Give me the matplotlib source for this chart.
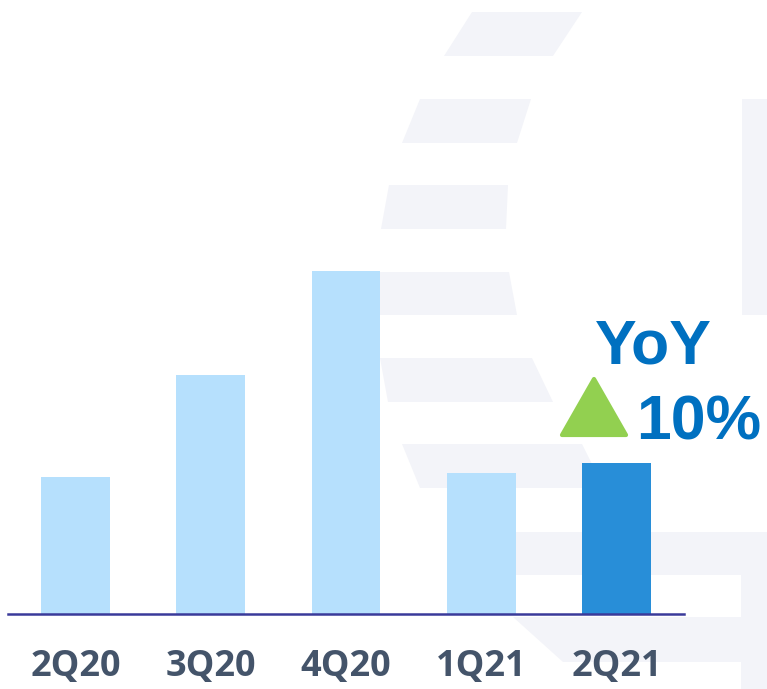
import matplotlib
matplotlib.use("Agg")
import matplotlib.pyplot as plt
from matplotlib.patches import Polygon

# ---- data ----
quarters = ["2Q20", "3Q20", "4Q20", "1Q21", "2Q21"]
values = [13.7, 23.9, 34.3, 14.1, 15.1]
highlight = "2Q21"
yoy_label = "YoY"
yoy_value = "10%"

LIGHT = "#B6E0FD"
DARK = "#288ED8"
BAND = "#F3F4F9"
LABEL = "#44546A"
BLUE_TXT = "#0070C0"
GREEN = "#92D050"

W, H = 767, 689
fig = plt.figure(figsize=(W / 100, H / 100), dpi=100)
fig.patch.set_facecolor("white")

# background decoration axes in pixel coordinates
bg = fig.add_axes([0, 0, 1, 1], zorder=0)
bg.set_xlim(0, W)
bg.set_ylim(H, 0)
bg.axis("off")
bands = [
    [(472, 12), (582, 12), (553, 56), (444, 56)],
    [(420, 99), (531, 99), (517, 143), (402, 143)],
    [(389, 185), (508, 185), (506, 229), (381, 229)],
    [(376, 272), (509, 272), (517, 315), (376, 315)],
    [(380, 358), (532, 358), (553, 402), (388, 402)],
    [(402, 444), (582, 444), (604, 488), (420, 488)],
    [(742, 99), (767, 99), (767, 315), (742, 315)],
    [(460, 532), (767, 532), (767, 689), (741, 689), (741, 662), (563, 662),
     (513, 617), (741, 617), (741, 575), (475, 575)],
]
for b in bands:
    bg.add_patch(Polygon(b, closed=True, facecolor=BAND, edgecolor="none"))

# main axes
left = 8 / W
bottom = (H - 614) / H
ax = fig.add_axes([left, bottom, 676 / W, 614 / H], zorder=1)
ax.patch.set_alpha(0)
x = list(range(len(quarters)))
colors = [DARK if q == highlight else LIGHT for q in quarters]
ax.bar(x, values, width=0.51, color=colors, zorder=2)
ax.set_xlim(-0.5, 4.5)
ax.set_ylim(0, 61.4)
for s in ["top", "right", "left"]:
    ax.spines[s].set_visible(False)
ax.spines["bottom"].set_color("#3A3A9A")
ax.spines["bottom"].set_linewidth(1.8)
ax.spines["bottom"].set_zorder(3)
ax.set_yticks([])
ax.set_xticks(x)
ax.set_xticklabels(quarters, fontsize=26, fontweight="bold",
                   family=["Open Sans", "DejaVu Sans"], color=LABEL)
ax.tick_params(axis="x", length=0, pad=25)

# YoY annotation (pixel coords on background axes)
bg.text(653, 364, yoy_label, fontsize=45, fontweight="bold",
        family=["Liberation Sans", "DejaVu Sans"], color=BLUE_TXT,
        ha="center", va="baseline", zorder=5)
bg.text(636, 440, yoy_value, fontsize=45, fontweight="bold",
        family=["Liberation Sans", "DejaVu Sans"], color=BLUE_TXT,
        ha="left", va="baseline", zorder=5)
bg.add_patch(Polygon([(594, 379), (562, 435), (626, 435)], closed=True,
                     facecolor=GREEN, edgecolor=GREEN, linewidth=3,
                     joinstyle="round", zorder=5))

fig.savefig("out.png", dpi=100, facecolor="white")
